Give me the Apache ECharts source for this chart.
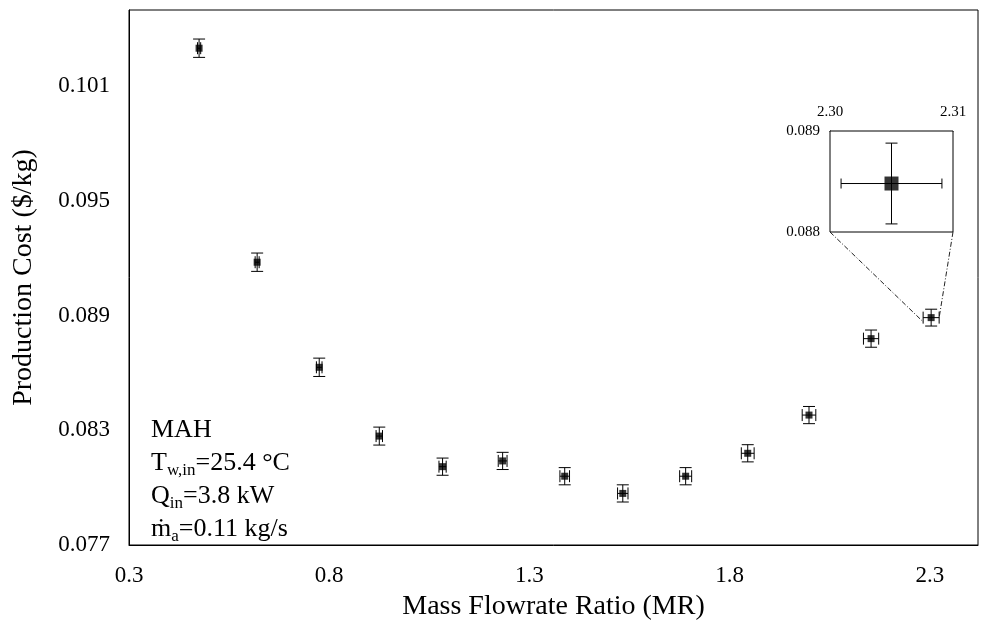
<!DOCTYPE html>
<html>
<head>
<meta charset="utf-8">
<script src="https://cdn.jsdelivr.net/npm/echarts@6/dist/echarts.min.js"></script>
<style>
html, body { margin: 0; padding: 0; background: #fff; }
#chart { width: 1000px; height: 623px; }
</style>
</head>
<body>
<div id="chart"></div>
<script>
// main data: mass flowrate ratio vs production cost, with error bars
var mr = [0.475, 0.62, 0.775, 0.925, 1.083, 1.233, 1.388, 1.533, 1.69, 1.845, 1.998, 2.153, 2.303];
var cost = [0.1030, 0.0918, 0.0863, 0.0827, 0.0811, 0.0814, 0.0806, 0.0797, 0.0806, 0.0818, 0.0838, 0.0878, 0.0889];
var mrErr = [0.004, 0.005, 0.007, 0.008, 0.009, 0.011, 0.012, 0.013, 0.015, 0.016, 0.017, 0.019, 0.02];
var costErr = [0.00048, 0.00048, 0.00048, 0.00047, 0.00045, 0.00045, 0.00045, 0.00045, 0.00045, 0.00045, 0.00045, 0.00045, 0.00044];
var xTicks = ['0.3', '0.8', '1.3', '1.8', '2.3'];
var yTicks = ['0.077', '0.083', '0.089', '0.095', '0.101'];

// inset (zoom on last point)
var insetMr = [2.305];
var insetCost = [0.08848];
var insetMrErr = [0.0041];
var insetCostErr = [0.0004];
var insetXTicks = ['2.30', '2.31'];
var insetYTicks = ['0.088', '0.089'];

var font = 'Liberation Serif';

function rows(xs, ys, dxs, dys) {
    var out = [];
    for (var i = 0; i < xs.length; i++) out.push([xs[i], ys[i], dxs[i], dys[i]]);
    return out;
}

function errorBars(capH, capV) {
    return function (params, api) {
        var x = api.value(0), y = api.value(1), dx = api.value(2), dy = api.value(3);
        var l = api.coord([x - dx, y]), r = api.coord([x + dx, y]);
        var t = api.coord([x, y + dy]), b = api.coord([x, y - dy]);
        function ln(x1, y1, x2, y2) {
            return { type: 'line', shape: { x1: x1, y1: y1, x2: x2, y2: y2 }, style: { stroke: '#000', lineWidth: 1 } };
        }
        return {
            type: 'group',
            children: [
                ln(l[0], l[1], r[0], r[1]),
                ln(t[0], t[1], b[0], b[1]),
                ln(l[0], l[1] - capH, l[0], l[1] + capH),
                ln(r[0], r[1] - capH, r[0], r[1] + capH),
                ln(t[0] - capV, t[1], t[0] + capV, t[1]),
                ln(b[0] - capV, b[1], b[0] + capV, b[1])
            ]
        };
    };
}

function pick(list, digits) {
    return function (v) {
        var s = v.toFixed(digits);
        return list.indexOf(s) >= 0 ? s : '';
    };
}

var chart = echarts.init(document.getElementById('chart'));

var option = {
    backgroundColor: '#fff',
    animation: false,
    grid: [
        { left: 129, right: 22, top: 10, bottom: 78, show: true, borderColor: '#000', borderWidth: 1,
          containLabel: false, outerBoundsMode: 'none' },
        { left: 830, top: 131, width: 123, height: 101, show: true, borderColor: '#000', borderWidth: 1,
          backgroundColor: '#fff', z: 5, containLabel: false, outerBoundsMode: 'none' }
    ],
    xAxis: [{
        type: 'value', gridIndex: 0, min: 0.3, max: 2.42, interval: 0.5,
        name: 'Mass Flowrate Ratio (MR)', nameLocation: 'middle', nameGap: 48,
        nameTextStyle: { fontFamily: font, fontSize: 28, color: '#000' },
        axisLine: { show: true, onZero: false, lineStyle: { color: '#000' } },
        axisTick: { show: false },
        splitLine: { show: false },
        axisLabel: { fontFamily: font, fontSize: 23, color: '#000', margin: 19, formatter: pick(xTicks, 1) }
    }, {
        type: 'value', gridIndex: 1, position: 'top', min: 2.30, max: 2.31, interval: 0.01,
        axisLine: { show: true, onZero: false, lineStyle: { color: '#000' } },
        axisTick: { show: false },
        splitLine: { show: false },
        axisLabel: { fontFamily: font, fontSize: 15, color: '#000', margin: 11, formatter: pick(insetXTicks, 2) }
    }],
    yAxis: [{
        type: 'value', gridIndex: 0, min: 0.077, max: 0.105, interval: 0.006,
        name: 'Production Cost ($/kg)', nameLocation: 'middle', nameGap: 91,
        nameTextStyle: { fontFamily: font, fontSize: 28, color: '#000' },
        axisLine: { show: true, onZero: false, lineStyle: { color: '#000' } },
        axisTick: { show: false },
        splitLine: { show: false },
        axisLabel: { fontFamily: font, fontSize: 23, color: '#000', margin: 19, formatter: pick(yTicks, 3) }
    }, {
        type: 'value', gridIndex: 1, min: 0.088, max: 0.089, interval: 0.001,
        axisLine: { show: true, onZero: false, lineStyle: { color: '#000' } },
        axisTick: { show: false },
        splitLine: { show: false },
        axisLabel: { fontFamily: font, fontSize: 15, color: '#000', margin: 10, formatter: pick(insetYTicks, 3) }
    }],
    series: [{
        type: 'custom', xAxisIndex: 0, yAxisIndex: 0,
        renderItem: errorBars(6, 6),
        data: rows(mr, cost, mrErr, costErr),
        encode: { x: 0, y: 1 }, z: 2
    }, {
        type: 'scatter', xAxisIndex: 0, yAxisIndex: 0,
        symbol: 'rect', symbolSize: 7,
        itemStyle: { color: '#000' },
        data: mr.map(function (x, i) { return [x, cost[i]]; }), z: 3
    }, {
        type: 'custom', xAxisIndex: 1, yAxisIndex: 1,
        renderItem: errorBars(5, 6),
        data: rows(insetMr, insetCost, insetMrErr, insetCostErr),
        encode: { x: 0, y: 1 }, z: 6
    }, {
        type: 'scatter', xAxisIndex: 1, yAxisIndex: 1,
        symbol: 'rect', symbolSize: 14,
        itemStyle: { color: '#000' },
        data: insetMr.map(function (x, i) { return [x, insetCost[i]]; }), z: 7
    }]
};

chart.setOption(option);

// annotation text block and dash-dot connectors to the inset
var n = mr.length - 1;
var bl = chart.convertToPixel({ gridIndex: 1 }, [2.30, 0.088]);
var br = chart.convertToPixel({ gridIndex: 1 }, [2.31, 0.088]);
var pl = chart.convertToPixel({ gridIndex: 0 }, [mr[n] - mrErr[n], cost[n] - costErr[n] * 0.5]);
var pr = chart.convertToPixel({ gridIndex: 0 }, [mr[n] + mrErr[n], cost[n]]);

var rich = {
    m: { fontFamily: font, fontSize: 26, color: '#000', lineHeight: 33 },
    s: { fontFamily: font, fontSize: 17, color: '#000', lineHeight: 33, verticalAlign: 'bottom' }
};

chart.setOption({
    graphic: [
        { type: 'line', z: 10, shape: { x1: bl[0], y1: bl[1], x2: pl[0], y2: pl[1] },
          style: { stroke: '#222', lineWidth: 1, lineDash: [5, 2, 1, 2] } },
        { type: 'line', z: 10, shape: { x1: br[0], y1: br[1], x2: pr[0], y2: pr[1] },
          style: { stroke: '#222', lineWidth: 1, lineDash: [5, 2, 1, 2] } },
        { type: 'text', left: 151, top: 417, z: 10,
          style: {
              text: '{m|MAH}\n{m|T}{s|w,in}{m|=25.4 °C}\n{m|Q}{s|in}{m|=3.8 kW}\n{m|ṁ}{s|a}{m|=0.11 kg/s}',
              rich: rich
          } }
    ]
});
</script>
</body>
</html>
